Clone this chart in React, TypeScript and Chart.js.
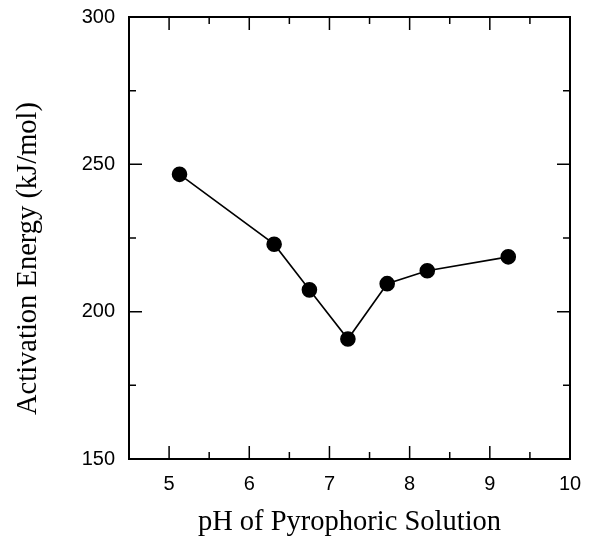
import React, { useEffect, useRef } from "react";
import { Chart, registerables } from "chart.js";

Chart.register(...registerables);

const phValues = [5.13, 6.31, 6.75, 7.23, 7.72, 8.22, 9.23];
const energyValues = [246.6, 222.9, 207.4, 190.7, 209.5, 213.9, 218.6];

const xTickValues = [5, 6, 7, 8, 9, 10];
const xMinorTicks = [5.5, 6.5, 7.5, 8.5, 9.5];
const yTickValues = [150, 200, 250, 300];
const yMinorTicks = [175, 225, 275];

const xTitle = "pH of Pyrophoric Solution";
const yTitle = "Activation Energy (kJ/mol)";

const framePlugin = {
  id: "framePlugin",
  afterDraw(chart: any) {
    const { ctx, chartArea } = chart;
    const xs = chart.scales.x;
    const ys = chart.scales.y;
    const { left, right, top, bottom } = chartArea;
    ctx.save();
    ctx.strokeStyle = "#000";
    ctx.lineWidth = 2;
    ctx.strokeRect(left, top, right - left, bottom - top);
    ctx.lineWidth = 1.5;
    ctx.beginPath();
    const major = 13;
    const minor = 7;
    const xt = (vals: number[], len: number) => {
      vals.forEach((v) => {
        const px = xs.getPixelForValue(v);
        ctx.moveTo(px, bottom);
        ctx.lineTo(px, bottom - len);
        ctx.moveTo(px, top);
        ctx.lineTo(px, top + len);
      });
    };
    const yt = (vals: number[], len: number) => {
      vals.forEach((v) => {
        const py = ys.getPixelForValue(v);
        ctx.moveTo(left, py);
        ctx.lineTo(left + len, py);
        ctx.moveTo(right, py);
        ctx.lineTo(right - len, py);
      });
    };
    xt(xTickValues.filter((v) => v < 10), major);
    xt(xMinorTicks, minor);
    yt(yTickValues.filter((v) => v > 150 && v < 300), major);
    yt(yMinorTicks, minor);
    ctx.stroke();

    ctx.fillStyle = "#000";
    ctx.font = "28.5px 'Liberation Serif', 'Times New Roman', serif";
    ctx.textAlign = "center";
    ctx.textBaseline = "alphabetic";
    ctx.fillText(xTitle, (left + right) / 2, 530);
    ctx.translate(36, 258.5);
    ctx.rotate(-Math.PI / 2);
    ctx.fillText(yTitle, 0, 0);
    ctx.restore();
  },
};

export default function App() {
  const canvasRef = useRef<HTMLCanvasElement | null>(null);

  useEffect(() => {
    if (!canvasRef.current) return;
    const chart = new Chart(canvasRef.current, {
      type: "scatter",
      data: {
        datasets: [
          {
            data: phValues.map((x, i) => ({ x, y: energyValues[i] })),
            showLine: true,
            borderColor: "#000",
            borderWidth: 1.6,
            backgroundColor: "#000",
            pointBackgroundColor: "#000",
            pointBorderColor: "#000",
            pointRadius: 7,
            pointHoverRadius: 7,
          },
        ],
      },
      options: {
        animation: false,
        responsive: false,
        devicePixelRatio: 1,
        layout: { padding: { top: 17, right: 21, left: 0, bottom: 0 } },
        plugins: { legend: { display: false }, tooltip: { enabled: false } },
        scales: {
          x: {
            type: "linear",
            min: 4.5,
            max: 10,
            grid: { display: false, drawTicks: false },
            border: { display: false },
            afterBuildTicks: (s: any) => {
              s.ticks = xTickValues.map((v) => ({ value: v }));
            },
            afterFit: (s: any) => {
              s.height = 78;
              s.paddingLeft = 0;
              s.paddingRight = 0;
            },
            ticks: {
              color: "#000",
              padding: 13,
              maxRotation: 0,
              font: { family: "'Liberation Sans', Arial, sans-serif", size: 20 },
              callback: (v: any) => String(v),
            },
          },
          y: {
            type: "linear",
            min: 150,
            max: 300,
            grid: { display: false, drawTicks: false },
            border: { display: false },
            afterBuildTicks: (s: any) => {
              s.ticks = yTickValues.map((v) => ({ value: v }));
            },
            afterFit: (s: any) => {
              s.width = 129;
              s.paddingTop = 0;
              s.paddingBottom = 0;
            },
            ticks: {
              color: "#000",
              padding: 14,
              font: { family: "'Liberation Sans', Arial, sans-serif", size: 20 },
              callback: (v: any) => String(v),
            },
          },
        },
      },
      plugins: [framePlugin],
    });
    return () => chart.destroy();
  }, []);

  return (
    <div style={{ position: "absolute", left: 0, top: 0, width: 591, height: 537, background: "#fff" }}>
      <canvas ref={canvasRef} width={591} height={537} style={{ display: "block" }} />
    </div>
  );
}
